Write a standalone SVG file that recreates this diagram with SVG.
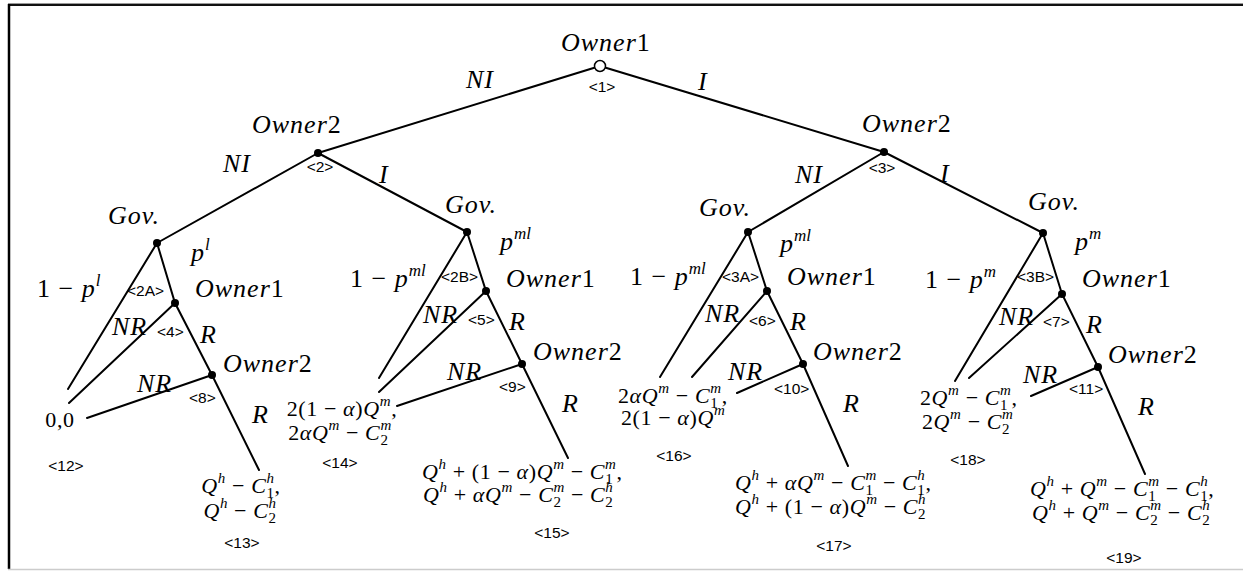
<svg xmlns="http://www.w3.org/2000/svg" width="1243" height="571" viewBox="0 0 1243 571">
<style>
.e{stroke:#000;stroke-width:2;fill:none;stroke-linecap:round}
.d{fill:#000}
.m{font-family:"Liberation Serif",serif;font-style:italic;font-size:26px;letter-spacing:1px;fill:#000}
.sp{font-size:17px;letter-spacing:0}
.p{font-family:"Liberation Serif",serif;font-style:italic;font-size:22px;letter-spacing:0.6px;fill:#000}
.sc{font-size:15px}
.t{font-family:"Liberation Sans",sans-serif;font-size:15.5px;fill:#000}
.u{font-style:normal}
</style>
<rect width="1243" height="571" fill="#fff"/>
<g id="frame">
<line x1="8" y1="3.5" x2="1243" y2="3.5" stroke="#999" stroke-width="1"/>
<line x1="8" y1="5" x2="1243" y2="5" stroke="#111" stroke-width="2"/>
<line x1="9" y1="4" x2="9" y2="569" stroke="#000" stroke-width="2.5"/>
<line x1="8" y1="569.5" x2="1243" y2="569.5" stroke="#ccc" stroke-width="1.5"/>
</g>
<g id="connectors">
<path class="e" d="M600,66L318,153M600,66L884,152M318,153L157,243M318,153L467,232M884,152L748,232M884,152L1043,233"/>
<path class="e" d="M157,243L68,389M157,243L175,303L212,375L259,470M175,303L69,403M212,375L87,418"/>
<path class="e" d="M467,232L379,378M467,232L486,291L522,364L568,458M486,291L379,392M522,364L397,406"/>
<path class="e" d="M748,232L660,377M748,232L767,291L803,364L848,466M767,291L692,377M803,364L737,393"/>
<path class="e" d="M1043,233L955,381M1043,233L1062,294L1098,367L1145,474M1062,294L969,378M1098,367L1031,396"/>
<g id="edge-labels">
<text class="m" x="466" y="88">NI</text>
<text class="m" x="698" y="90">I</text>
<text class="m" x="223" y="172">NI</text>
<text class="m" x="379" y="183">I</text>
<text class="m" x="795" y="183">NI</text>
<text class="m" x="940" y="182">I</text>
<text class="m" x="191" y="261">p<tspan class="sp" dy="-11">l</tspan></text>
<text class="m" x="37" y="297"><tspan class="u">1 − </tspan>p<tspan class="sp" dy="-11">l</tspan></text>
<text class="m" x="112" y="335">NR</text>
<text class="m" x="200" y="343">R</text>
<text class="m" x="137" y="392">NR</text>
<text class="m" x="252" y="423">R</text>
<text class="m" x="500" y="250">p<tspan class="sp" dy="-11">ml</tspan></text>
<text class="m" x="350" y="287"><tspan class="u">1 − </tspan>p<tspan class="sp" dy="-11">ml</tspan></text>
<text class="m" x="423" y="323">NR</text>
<text class="m" x="509" y="330">R</text>
<text class="m" x="447" y="380">NR</text>
<text class="m" x="562" y="412">R</text>
<text class="m" x="780" y="252">p<tspan class="sp" dy="-11">ml</tspan></text>
<text class="m" x="630" y="285"><tspan class="u">1 − </tspan>p<tspan class="sp" dy="-11">ml</tspan></text>
<text class="m" x="705" y="322">NR</text>
<text class="m" x="790" y="330">R</text>
<text class="m" x="728" y="380">NR</text>
<text class="m" x="843" y="412">R</text>
<text class="m" x="1075" y="250">p<tspan class="sp" dy="-11">m</tspan></text>
<text class="m" x="925" y="288"><tspan class="u">1 − </tspan>p<tspan class="sp" dy="-11">m</tspan></text>
<text class="m" x="999" y="325">NR</text>
<text class="m" x="1086" y="333">R</text>
<text class="m" x="1023" y="383">NR</text>
<text class="m" x="1138" y="415">R</text>
</g>
</g>
<g id="n1">
<circle cx="600" cy="66" r="5.5" fill="#fff" stroke="#000" stroke-width="1.5"/>
<text class="m" x="561" y="51">Owner<tspan class="u">1</tspan></text>
<text class="t" x="602" y="92" text-anchor="middle">&lt;1&gt;</text>
</g>
<g id="n2">
<circle class="d" cx="318" cy="153" r="4"/>
<text class="m" x="252" y="133">Owner<tspan class="u">2</tspan></text>
<text class="t" x="320" y="172" text-anchor="middle">&lt;2&gt;</text>
</g>
<g id="n3">
<circle class="d" cx="884" cy="152" r="4"/>
<text class="m" x="862" y="132">Owner<tspan class="u">2</tspan></text>
<text class="t" x="882" y="173" text-anchor="middle">&lt;3&gt;</text>
</g>
<g id="n2A">
<circle class="d" cx="157" cy="243" r="4"/>
<text class="m" x="108" y="224">Gov.</text>
<text class="t" x="127" y="296">&lt;2A&gt;</text>
</g>
<g id="n2B">
<circle class="d" cx="467" cy="232" r="4"/>
<text class="m" x="445" y="213">Gov.</text>
<text class="t" x="441" y="282">&lt;2B&gt;</text>
</g>
<g id="n3A">
<circle class="d" cx="748" cy="232" r="4"/>
<text class="m" x="699" y="216">Gov.</text>
<text class="t" x="722" y="282">&lt;3A&gt;</text>
</g>
<g id="n3B">
<circle class="d" cx="1043" cy="233" r="4"/>
<text class="m" x="1028" y="210">Gov.</text>
<text class="t" x="1017" y="282">&lt;3B&gt;</text>
</g>
<g id="n4">
<circle class="d" cx="175" cy="303" r="4"/>
<text class="m" x="195" y="297">Owner<tspan class="u">1</tspan></text>
<text class="t" x="157" y="337">&lt;4&gt;</text>
</g>
<g id="n5">
<circle class="d" cx="486" cy="291" r="4"/>
<text class="m" x="506" y="287">Owner<tspan class="u">1</tspan></text>
<text class="t" x="468" y="325">&lt;5&gt;</text>
</g>
<g id="n6">
<circle class="d" cx="767" cy="291" r="4"/>
<text class="m" x="787" y="285">Owner<tspan class="u">1</tspan></text>
<text class="t" x="749" y="326">&lt;6&gt;</text>
</g>
<g id="n7">
<circle class="d" cx="1062" cy="294" r="4"/>
<text class="m" x="1082" y="287">Owner<tspan class="u">1</tspan></text>
<text class="t" x="1043" y="327">&lt;7&gt;</text>
</g>
<g id="n8">
<circle class="d" cx="212" cy="375" r="4"/>
<text class="m" x="223" y="372">Owner<tspan class="u">2</tspan></text>
<text class="t" x="189" y="403">&lt;8&gt;</text>
</g>
<g id="n9">
<circle class="d" cx="522" cy="364" r="4"/>
<text class="m" x="533" y="360">Owner<tspan class="u">2</tspan></text>
<text class="t" x="499" y="392">&lt;9&gt;</text>
</g>
<g id="n10">
<circle class="d" cx="803" cy="364" r="4"/>
<text class="m" x="813" y="360">Owner<tspan class="u">2</tspan></text>
<text class="t" x="774" y="394">&lt;10&gt;</text>
</g>
<g id="n11">
<circle class="d" cx="1098" cy="367" r="4"/>
<text class="m" x="1108" y="363">Owner<tspan class="u">2</tspan></text>
<text class="t" x="1069" y="394">&lt;11&gt;</text>
</g>
<g id="t12">
<text class="p u" x="60" y="427" text-anchor="middle">0,0</text>
<text class="t" x="66" y="471" text-anchor="middle">&lt;12&gt;</text>
</g>
<g id="t13">
<text class="p" x="241" y="493" text-anchor="middle">Q<tspan class="sc" dy="-10">h</tspan><tspan class="u" dy="10"> − </tspan>C<tspan class="sc" dy="-10">h</tspan><tspan class="sc u" dx="-8.1" dy="15">1</tspan><tspan class="u" dy="-5">,</tspan></text>
<text class="p" x="240" y="518" text-anchor="middle">Q<tspan class="sc" dy="-10">h</tspan><tspan class="u" dy="10"> − </tspan>C<tspan class="sc" dy="-10">h</tspan><tspan class="sc u" dx="-8.1" dy="15">2</tspan></text>
<text class="t" x="242" y="548" text-anchor="middle">&lt;13&gt;</text>
</g>
<g id="t14">
<text class="p" x="342" y="416" text-anchor="middle"><tspan class="u">2(1 − </tspan>α<tspan class="u">)</tspan>Q<tspan class="sc" dy="-10">m</tspan><tspan class="u" dy="10">,</tspan></text>
<text class="p" x="340" y="440" text-anchor="middle"><tspan class="u">2</tspan>αQ<tspan class="sc" dy="-10">m</tspan><tspan class="u" dy="10"> − </tspan>C<tspan class="sc" dy="-10">m</tspan><tspan class="sc u" dx="-11.4" dy="15">2</tspan></text>
<text class="t" x="340" y="468" text-anchor="middle">&lt;14&gt;</text>
</g>
<g id="t15">
<text class="p" x="422" y="479">Q<tspan class="sc" dy="-10">h</tspan><tspan class="u" dy="10"> + (1 − </tspan>α<tspan class="u">)</tspan>Q<tspan class="sc" dy="-10">m</tspan><tspan class="u" dy="10"> − </tspan>C<tspan class="sc" dy="-10">m</tspan><tspan class="sc u" dx="-11.4" dy="15">1</tspan><tspan class="u" dx="3.3" dy="-5">,</tspan></text>
<text class="p" x="423" y="502">Q<tspan class="sc" dy="-10">h</tspan><tspan class="u" dy="10"> + </tspan>αQ<tspan class="sc" dy="-10">m</tspan><tspan class="u" dy="10"> − </tspan>C<tspan class="sc" dy="-10">m</tspan><tspan class="sc u" dx="-11.4" dy="15">2</tspan><tspan class="u" dx="3.3" dy="-5"> − </tspan>C<tspan class="sc" dy="-10">h</tspan><tspan class="sc u" dx="-8.1" dy="15">2</tspan></text>
<text class="t" x="552" y="538" text-anchor="middle">&lt;15&gt;</text>
</g>
<g id="t16">
<text class="p" x="618" y="403"><tspan class="u">2</tspan>αQ<tspan class="sc" dy="-10">m</tspan><tspan class="u" dy="10"> − </tspan>C<tspan class="sc" dy="-10">m</tspan><tspan class="sc u" dx="-11.4" dy="15">1</tspan><tspan class="u" dx="3.3" dy="-5">,</tspan></text>
<text class="p" x="621" y="425"><tspan class="u">2(1 − </tspan>α<tspan class="u">)</tspan>Q<tspan class="sc" dy="-10">m</tspan></text>
<text class="t" x="674" y="461" text-anchor="middle">&lt;16&gt;</text>
</g>
<g id="t17">
<text class="p" x="735" y="490">Q<tspan class="sc" dy="-10">h</tspan><tspan class="u" dy="10"> + </tspan>αQ<tspan class="sc" dy="-10">m</tspan><tspan class="u" dy="10"> − </tspan>C<tspan class="sc" dy="-10">m</tspan><tspan class="sc u" dx="-11.4" dy="15">1</tspan><tspan class="u" dx="3.3" dy="-5"> − </tspan>C<tspan class="sc" dy="-10">h</tspan><tspan class="sc u" dx="-8.1" dy="15">1</tspan><tspan class="u" dy="-5">,</tspan></text>
<text class="p" x="735" y="514">Q<tspan class="sc" dy="-10">h</tspan><tspan class="u" dy="10"> + (1 − </tspan>α<tspan class="u">)</tspan>Q<tspan class="sc" dy="-10">m</tspan><tspan class="u" dy="10"> − </tspan>C<tspan class="sc" dy="-10">h</tspan><tspan class="sc u" dx="-8.1" dy="15">2</tspan></text>
<text class="t" x="834" y="551" text-anchor="middle">&lt;17&gt;</text>
</g>
<g id="t18">
<text class="p" x="920" y="405"><tspan class="u">2</tspan>Q<tspan class="sc" dy="-10">m</tspan><tspan class="u" dy="10"> − </tspan>C<tspan class="sc" dy="-10">m</tspan><tspan class="sc u" dx="-11.4" dy="15">1</tspan><tspan class="u" dx="3.3" dy="-5">,</tspan></text>
<text class="p" x="922" y="429"><tspan class="u">2</tspan>Q<tspan class="sc" dy="-10">m</tspan><tspan class="u" dy="10"> − </tspan>C<tspan class="sc" dy="-10">m</tspan><tspan class="sc u" dx="-11.4" dy="15">2</tspan></text>
<text class="t" x="968" y="465" text-anchor="middle">&lt;18&gt;</text>
</g>
<g id="t19">
<text class="p" x="1030" y="496">Q<tspan class="sc" dy="-10">h</tspan><tspan class="u" dy="10"> + </tspan>Q<tspan class="sc" dy="-10">m</tspan><tspan class="u" dy="10"> − </tspan>C<tspan class="sc" dy="-10">m</tspan><tspan class="sc u" dx="-11.4" dy="15">1</tspan><tspan class="u" dx="3.3" dy="-5"> − </tspan>C<tspan class="sc" dy="-10">h</tspan><tspan class="sc u" dx="-8.1" dy="15">1</tspan><tspan class="u" dy="-5">,</tspan></text>
<text class="p" x="1032" y="520">Q<tspan class="sc" dy="-10">h</tspan><tspan class="u" dy="10"> + </tspan>Q<tspan class="sc" dy="-10">m</tspan><tspan class="u" dy="10"> − </tspan>C<tspan class="sc" dy="-10">m</tspan><tspan class="sc u" dx="-11.4" dy="15">2</tspan><tspan class="u" dx="3.3" dy="-5"> − </tspan>C<tspan class="sc" dy="-10">h</tspan><tspan class="sc u" dx="-8.1" dy="15">2</tspan></text>
<text class="t" x="1124" y="563" text-anchor="middle">&lt;19&gt;</text>
</g>
</svg>
